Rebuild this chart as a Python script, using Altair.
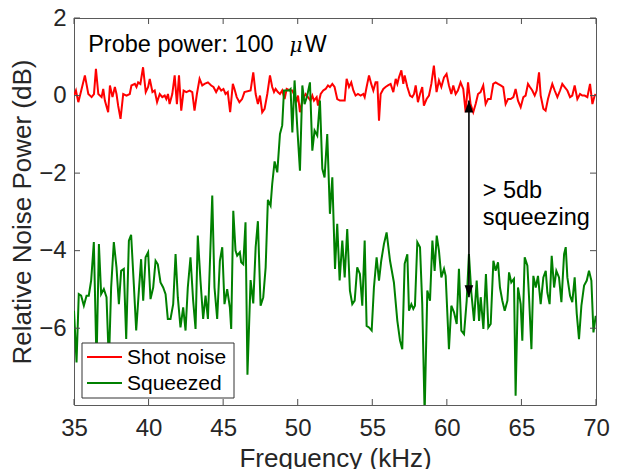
import altair as alt
import pandas as pd

# ---------------- data ----------------
red_freq = [35.00, 35.13, 35.29, 35.51, 35.73, 35.96, 36.18, 36.34, 36.47, 36.63, 36.85, 36.96, 37.07, 37.29,
            37.41, 37.58, 37.74, 37.85, 37.96, 38.12, 38.30, 38.52, 38.74, 38.85, 39.08, 39.19, 39.30, 39.45,
            39.63, 39.81, 39.97, 40.08, 40.26, 40.41, 40.57, 40.75, 40.92, 41.08, 41.19, 41.30, 41.41, 41.59,
            41.75, 41.90, 42.04, 42.19, 42.35, 42.53, 42.75, 42.93, 43.08, 43.24, 43.42, 43.60, 43.75, 43.98,
            44.20, 44.35, 44.53, 44.71, 44.87, 45.02, 45.16, 45.31, 45.47, 45.65, 45.76, 45.91, 46.09, 46.27,
            46.43, 46.84, 47.02, 47.18, 47.33, 47.47, 47.62, 47.78, 47.96, 48.14, 48.29, 48.41, 48.52, 48.67,
            48.81, 48.96, 49.12, 49.26, 49.48, 49.64, 49.79, 49.93, 50.02, 50.15, 50.31, 50.42, 50.53, 50.69,
            50.86, 50.98, 51.09, 51.27, 51.36, 51.54, 51.71, 51.87, 52.03, 52.16, 52.32, 52.47, 52.65, 52.83,
            52.99, 53.15, 53.28, 53.44, 53.59, 53.73, 53.88, 54.04, 54.22, 54.40, 54.49, 54.62, 54.78, 54.93,
            55.07, 55.22, 55.34, 55.45, 55.56, 55.74, 55.89, 56.05, 56.23, 56.41, 56.57, 56.68, 56.79, 56.95,
            57.08, 57.17, 57.35, 57.53, 57.68, 57.80, 57.91, 58.06, 58.20, 58.35, 58.46, 58.64, 58.80, 58.96,
            59.13, 59.31, 59.47, 59.63, 59.81, 59.98, 60.14, 60.30, 60.43, 60.59, 60.74, 60.92, 61.10, 61.26,
            61.42, 61.59, 61.77, 61.93, 62.09, 62.26, 62.44, 62.60, 62.76, 62.94, 63.11, 63.27, 63.43, 63.61,
            63.78, 63.94, 64.10, 64.28, 64.46, 64.61, 64.77, 64.95, 65.13, 65.28, 65.44, 65.57, 65.73, 65.89,
            66.02, 66.18, 66.29, 66.47, 66.62, 66.78, 66.91, 67.07, 67.23, 67.41, 67.59, 67.74, 67.90, 68.08,
            68.26, 68.41, 68.57, 68.75, 68.93, 69.08, 69.24, 69.42, 69.60, 69.76, 69.91, 69.98]
red_db = [0.00, 0.13, -0.17, 0.17, 0.52, 0.04, -0.04, 0.04, 0.69, 0.04, -0.04, 0.17, -0.13, -0.43,
          0.26, -0.04, 0.22, 0.04, -0.26, -0.60, 0.04, 0.00, 0.04, 0.26, 0.30, 0.22, 0.34, 0.30,
          0.73, 0.09, 0.22, 0.43, 0.09, 0.13, -0.17, 0.04, -0.04, 0.00, -0.09, 0.04, -0.22, 0.04,
          0.52, -0.22, 0.52, -0.39, 0.13, 0.09, 0.13, 0.09, -0.39, 0.04, 0.43, 0.26, 0.30, 0.34,
          0.26, 0.22, 0.09, 0.22, 0.13, 0.17, 0.04, 0.09, -0.43, 0.30, 0.17, -0.04, -0.17, -0.09,
          0.09, 0.13, 0.60, 0.04, -0.22, 0.00, -0.43, -0.34, 0.04, 0.52, 0.22, 0.09, 0.17, 0.09,
          0.04, 0.13, -0.09, 0.17, 0.13, 0.13, 0.00, -0.13, 0.00, -0.43, -0.13, -0.04, 0.04, -0.04,
          -0.13, 0.00, -0.13, -0.04, -0.26, 0.04, 0.13, 0.17, 0.26, 0.22, 0.30, 0.22, -0.09, -0.13,
          -0.13, -0.13, 0.43, 0.22, 0.34, 0.13, 0.00, 0.04, 0.00, 0.04, -0.04, 0.22, 0.52, 0.30,
          0.13, 0.34, 0.34, -0.65, 0.04, 0.17, 0.22, 0.26, 0.30, 0.09, 0.43, 0.30, 0.47, 0.65,
          0.30, 0.52, 0.22, 0.00, -0.04, 0.04, 0.26, -0.17, 0.04, 0.22, -0.26, -0.09, 0.00, 0.30,
          0.77, 0.09, 0.39, 0.22, 0.47, 0.56, 0.26, 0.04, 0.26, 0.04, 0.13, 0.34, 0.17, -0.43,
          0.34, -0.22, -0.43, -0.22, 0.04, 0.09, 0.26, -0.22, -0.09, -0.09, 0.30, 0.34, 0.30, 0.26,
          0.22, -0.22, -0.09, -0.09, -0.04, 0.17, -0.13, -0.30, -0.04, 0.00, 0.30, 0.22, 0.13, 0.00,
          0.13, 0.60, 0.00, -0.34, -0.39, -0.09, 0.09, 0.30, 0.13, -0.04, 0.13, 0.30, 0.22, 0.13,
          -0.04, 0.00, 0.26, -0.09, 0.04, 0.00, 0.00, -0.04, 0.30, -0.22, 0.00, 0.04]

green_freq = [35.00, 35.17, 35.32, 35.48, 35.66, 35.84, 35.99, 36.15, 36.33, 36.51, 36.67, 36.82, 37.00, 37.18,
              37.34, 37.49, 37.67, 37.85, 38.01, 38.16, 38.34, 38.50, 38.68, 38.83, 39.01, 39.17, 39.35, 39.50,
              39.64, 39.80, 39.97, 40.13, 40.31, 40.47, 40.62, 40.80, 40.98, 41.14, 41.29, 41.47, 41.65, 41.81,
              41.96, 42.14, 42.32, 42.48, 42.63, 42.81, 42.99, 43.15, 43.30, 43.48, 43.66, 43.82, 43.98, 44.11,
              44.27, 44.42, 44.60, 44.78, 44.94, 45.09, 45.27, 45.45, 45.54, 45.68, 45.83, 45.94, 46.12, 46.21,
              46.35, 46.50, 46.63, 46.84, 47.02, 47.18, 47.33, 47.51, 47.69, 47.85, 48.00, 48.18, 48.29, 48.45,
              48.63, 48.81, 48.96, 49.08, 49.26, 49.41, 49.52, 49.64, 49.79, 49.97, 50.15, 50.31, 50.46, 50.64,
              50.82, 50.98, 51.13, 51.31, 51.49, 51.65, 51.80, 51.98, 52.16, 52.32, 52.50, 52.65, 52.81, 52.99,
              53.15, 53.32, 53.50, 53.66, 53.82, 53.99, 54.17, 54.33, 54.49, 54.62, 54.78, 54.96, 55.11, 55.29,
              55.45, 55.60, 55.78, 55.96, 56.19, 56.45, 56.68, 56.86, 57.01, 57.17, 57.35, 57.46, 57.62, 57.75,
              57.86, 58.02, 58.20, 58.35, 58.51, 58.69, 58.87, 59.03, 59.18, 59.32, 59.47, 59.63, 59.81, 59.92,
              60.14, 60.30, 60.48, 60.66, 60.81, 60.97, 61.15, 61.33, 61.48, 61.64, 61.82, 62.00, 62.16, 62.27,
              62.45, 62.62, 62.78, 62.94, 63.12, 63.27, 63.43, 63.56, 63.72, 63.88, 64.06, 64.17, 64.32, 64.50,
              64.61, 64.77, 64.95, 65.06, 65.22, 65.40, 65.51, 65.67, 65.80, 65.96, 66.11, 66.29, 66.47, 66.63,
              66.74, 66.89, 67.03, 67.19, 67.34, 67.52, 67.68, 67.86, 67.97, 68.08, 68.26, 68.41, 68.57, 68.71,
              68.86, 69.02, 69.20, 69.38, 69.53, 69.69, 69.83, 69.98]
green_db = [-5.55, -6.88, -5.12, -5.16, -5.42, -5.16, -5.16, -4.77, -3.78, -6.90, -3.83, -5.12, -4.99, -5.20,
            -6.90, -4.95, -3.78, -4.43, -5.38, -4.52, -4.47, -6.28, -3.74, -3.59, -4.86, -6.06, -5.03, -4.22,
            -5.29, -4.17, -4.04, -5.25, -4.95, -4.26, -4.35, -4.82, -4.95, -5.12, -5.76, -5.76, -5.38, -4.09,
            -5.20, -5.98, -5.46, -6.06, -4.95, -4.17, -5.29, -6.02, -3.61, -4.77, -5.76, -5.16, -5.76, -4.35,
            -2.58, -4.95, -5.76, -4.26, -3.91, -5.38, -4.99, -5.46, -6.02, -2.97, -4.00, -4.13, -4.04, -4.30,
            -4.35, -3.27, -7.20, -4.76, -5.36, -3.91, -3.24, -5.42, -5.20, -4.43, -2.69, -2.84, -2.28, -1.70,
            -1.98, -0.99, -0.77, 0.13, 0.13, 0.13, 0.17, -0.95, 0.39, -0.82, -1.94, 0.26, -0.22, 0.00,
            0.34, -1.42, -0.90, -1.03, -0.13, -1.89, -2.11, -0.99, -3.05, -2.11, -4.47, -3.31, -4.77, -3.74,
            -4.69, -3.44, -5.03, -5.38, -5.29, -4.43, -4.60, -5.42, -3.74, -5.94, -5.98, -6.06, -4.95, -4.17,
            -4.77, -4.26, -3.83, -3.53, -4.26, -4.82, -5.81, -6.32, -6.54, -4.34, -4.09, -5.55, -5.38, -5.50,
            -5.42, -3.78, -3.91, -5.38, -8.20, -5.03, -5.29, -3.74, -4.52, -3.61, -4.00, -4.69, -4.47, -4.65,
            -6.54, -5.42, -5.59, -5.89, -4.47, -6.06, -6.15, -5.29, -4.09, -5.08, -5.81, -4.77, -5.81, -5.20,
            -6.02, -4.60, -5.98, -5.89, -4.26, -4.52, -4.30, -4.95, -5.29, -5.55, -5.29, -4.56, -4.82, -4.73,
            -7.74, -4.95, -5.38, -6.32, -4.17, -4.39, -5.20, -6.54, -4.65, -4.95, -4.65, -5.38, -4.69, -4.52,
            -5.08, -5.38, -4.13, -4.95, -4.52, -4.69, -5.33, -4.09, -3.91, -4.69, -5.16, -5.33, -4.69, -5.63,
            -6.28, -5.42, -4.90, -4.77, -4.52, -4.77, -6.11, -5.68]

series_names = ["Shot noise", "Squeezed"]
series_colors = ["#ff0000", "#008000"]

x_ticks = [35, 40, 45, 50, 55, 60, 65, 70]
y_ticks = [-6, -4, -2, 0, 2]
x_domain = [35, 70]
y_domain = [-7.98, 2]

arrow_freq = 61.48
arrow_top = -0.13
arrow_bottom = -5.2

ann_plain_text = ["Probe power: 100", "W", "> 5db", "squeezing"]
ann_plain_x = [35.95, 50.45, 62.4, 62.4]
ann_plain_y = [1.12, 1.12, -2.64, -3.33]
ann_italic_text = ["μ"]
ann_italic_x = [49.45]
ann_italic_y = [1.12]

FONT = "Liberation Sans"
W, H = 522, 387

red_df = pd.DataFrame({"freq": red_freq, "db": red_db, "series": series_names[0]})
green_df = pd.DataFrame({"freq": green_freq, "db": green_db, "series": series_names[1]})

xscale = alt.Scale(domain=x_domain, nice=False, zero=False)
yscale = alt.Scale(domain=y_domain, nice=False, zero=False)
cscale = alt.Scale(domain=series_names, range=series_colors)

xaxis = alt.Axis(values=x_ticks, ticks=False, domain=False, grid=False, format="d", labelFlush=False,
                 labelFontSize=24, labelPadding=11, labelColor="#262626", labelFont=FONT,
                 title="Frequency (kHz)", titleFontSize=26, titleFont=FONT, titleFontWeight="normal",
                 titleColor="#262626", titlePadding=5)
yaxis = alt.Axis(values=y_ticks, ticks=False, domain=False, grid=False, format="d", labelFlush=False,
                 labelFontSize=24, labelPadding=8, labelColor="#262626", labelFont=FONT,
                 title="Relative Noise Power (dB)", titleFontSize=26, titleFont=FONT,
                 titleFontWeight="normal", titleColor="#262626", titlePadding=3)


def X(field):
    return alt.X(field, scale=xscale, axis=xaxis)


def Y(field):
    return alt.Y(field, scale=yscale, axis=yaxis)


red_line = alt.Chart(red_df).mark_line(strokeWidth=2, clip=True).encode(
    x=X("freq:Q"), y=Y("db:Q"),
    color=alt.Color("series:N", scale=cscale, legend=None),
)
green_line = alt.Chart(green_df).mark_line(strokeWidth=2, clip=True).encode(
    x=X("freq:Q"), y=Y("db:Q"),
    color=alt.Color("series:N", scale=cscale, legend=None),
)

xt_df = pd.DataFrame({"freq": x_ticks})
yt_df = pd.DataFrame({"db": y_ticks})
tick_color = "#4d4d4d"
xt_bottom = alt.Chart(xt_df).mark_rule(color=tick_color, strokeWidth=1).encode(
    x=X("freq:Q"), y=alt.value(H), y2=alt.value(H - 6))
xt_top = alt.Chart(xt_df).mark_rule(color=tick_color, strokeWidth=1).encode(
    x=X("freq:Q"), y=alt.value(0), y2=alt.value(6))
yt_left = alt.Chart(yt_df).mark_rule(color=tick_color, strokeWidth=1).encode(
    y=Y("db:Q"), x=alt.value(0), x2=alt.value(6))
yt_right = alt.Chart(yt_df).mark_rule(color=tick_color, strokeWidth=1).encode(
    y=Y("db:Q"), x=alt.value(W), x2=alt.value(W - 6))

arrow_df = pd.DataFrame({"freq": [arrow_freq], "db": [arrow_top], "db2": [arrow_bottom]})
arrow_rule = alt.Chart(arrow_df).mark_rule(color="black", strokeWidth=1.6).encode(
    x=X("freq:Q"), y=Y("db:Q"), y2="db2:Q")
head_up = alt.Chart(arrow_df).mark_point(shape="M0,0L0.72,2L-0.72,2Z", filled=True, size=144,
                                         color="black", opacity=1).encode(
    x=X("freq:Q"), y=Y("db:Q"))
head_down = alt.Chart(arrow_df).mark_point(shape="M0,0L0.72,-2L-0.72,-2Z", filled=True, size=144,
                                           color="black", opacity=1).encode(
    x=X("freq:Q"), y=Y("db2:Q"))

plain_df = pd.DataFrame({"freq": ann_plain_x, "db": ann_plain_y, "t": ann_plain_text})
ital_df = pd.DataFrame({"freq": ann_italic_x, "db": ann_italic_y, "t": ann_italic_text})
plain_text = alt.Chart(plain_df).mark_text(align="left", baseline="alphabetic", fontSize=23.5,
                                           font=FONT, color="black").encode(
    x=X("freq:Q"), y=Y("db:Q"), text="t:N")
ital_text = alt.Chart(ital_df).mark_text(align="left", baseline="alphabetic", fontSize=20,
                                         font="DejaVu Serif", fontStyle="italic", color="black").encode(
    x=X("freq:Q"), y=Y("db:Q"), text="t:N")

# ---- legend box (drawn as marks so that it sits on top of the lines) ----
leg_df = pd.DataFrame({"series": series_names})
legend_box = alt.Chart(leg_df.head(1)).mark_rect(fill="white", stroke="#333333", strokeWidth=1).encode(
    x=alt.value(8), x2=alt.value(160), y=alt.value(325), y2=alt.value(380))
legend_parts = []
for i, name in enumerate(series_names):
    row = leg_df[leg_df["series"] == name]
    yy = 339 + 26 * i
    legend_parts.append(
        alt.Chart(row).mark_rule(strokeWidth=2).encode(
            x=alt.value(13), x2=alt.value(48), y=alt.value(yy),
            color=alt.Color("series:N", scale=cscale, legend=None)))
    legend_parts.append(
        alt.Chart(row).mark_text(align="left", baseline="middle", fontSize=21, font=FONT,
                                 color="black").encode(
            x=alt.value(53), y=alt.value(yy + 1), text="series:N"))

chart = alt.layer(
    red_line, green_line, xt_bottom, xt_top, yt_left, yt_right,
    arrow_rule, head_up, head_down, plain_text, ital_text, legend_box, *legend_parts
).properties(
    width=W, height=H,
    autosize=alt.AutoSizeParams(type="none"),
    padding={"left": 66, "top": 10, "right": 14, "bottom": 64},
    background="white",
).configure_view(stroke="#5a5a5a", strokeWidth=1)

chart.save("out.html", embed_options={"renderer": "svg", "actions": False})
